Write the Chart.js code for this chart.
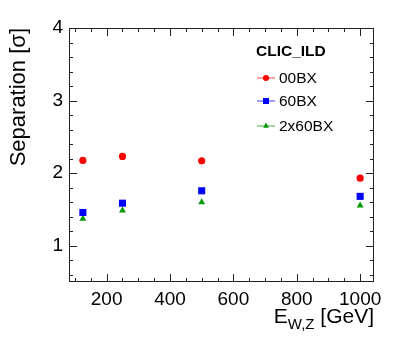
<!DOCTYPE html>
<html>
<head>
<meta charset="utf-8">
<script src="https://cdn.jsdelivr.net/npm/chart.js@4"></script>
<style>
  body { margin: 0; background: #fff; }
  canvas { display: block; }
</style>
</head>
<body>
<canvas id="sepChart" width="407" height="344"></canvas>
<script>
// energies (GeV)
const energies = [125, 250, 500, 1000];
// separation values per background scenario
const sep00BX = [2.175, 2.23, 2.17, 1.93];
const sep60BX = [1.458, 1.586, 1.757, 1.68];
const sep2x60BX = [1.37, 1.485, 1.60, 1.555];

const seriesNames = ['00BX', '60BX', '2x60BX'];
const xTicks = [200, 400, 600, 800, 1000];
const yTicks = [1, 2, 3, 4];

const FONT = "'Liberation Sans', Arial, Helvetica, sans-serif";

function toPoints(ys) {
    return energies.map((e, i) => ({ x: e, y: ys[i] }));
}

// ROOT style frame, inward ticks, legend and axis titles
const rootStyle = {
    id: 'rootStyle',
    afterDraw(chart) {
        const ctx = chart.ctx;
        const a = chart.chartArea;
        const xs = chart.scales.x;
        const ys = chart.scales.y;
        ctx.save();

        // frame
        ctx.strokeStyle = '#222';
        ctx.lineWidth = 1;
        ctx.strokeRect(a.left + 0.5, a.top + 0.5, a.right - a.left - 1, a.bottom - a.top - 1);

        // x ticks (major every 200, minor every 50)
        ctx.beginPath();
        for (let v = 100; v <= 1050; v += 50) {
            if (v < xs.min || v > xs.max) continue;
            const px = Math.round(xs.getPixelForValue(v)) + 0.5;
            const len = v % 200 === 0 ? 8 : 4;
            ctx.moveTo(px, a.bottom);
            ctx.lineTo(px, a.bottom - len);
            ctx.moveTo(px, a.top);
            ctx.lineTo(px, a.top + len);
        }
        // y ticks (major every 1, minor every 0.2)
        for (let k = 0; k <= 20; k++) {
            const v = k * 0.2;
            if (v < ys.min - 1e-6 || v > ys.max + 1e-6) continue;
            const py = Math.round(ys.getPixelForValue(v)) + 0.5;
            const len = k % 5 === 0 ? 8 : 4;
            ctx.moveTo(a.left, py);
            ctx.lineTo(a.left + len, py);
            ctx.moveTo(a.right, py);
            ctx.lineTo(a.right - len, py);
        }
        ctx.stroke();

        // legend
        const lx = a.left + 188;
        ctx.fillStyle = '#000';
        ctx.font = 'bold 15.5px ' + FONT;
        ctx.textBaseline = 'middle';
        ctx.textAlign = 'left';
        ctx.fillText('CLIC_ILD', lx - 1, a.top + 24);
        const rowY = [50, 73, 98];
        chart.data.datasets.forEach((ds, i) => {
            const y = a.top + rowY[i];
            ctx.strokeStyle = ds.borderColor;
            ctx.globalAlpha = 0.75;
            ctx.beginPath();
            ctx.moveTo(lx, y);
            ctx.lineTo(lx + 18, y);
            ctx.stroke();
            ctx.globalAlpha = 1;
            ctx.fillStyle = ds.backgroundColor;
            Chart.helpers.drawPoint(ctx, {
                pointStyle: ds.pointStyle,
                radius: ds.pointRadius * 0.85,
                rotation: 0,
                borderWidth: 0
            }, lx + 9, y);
            ctx.fillStyle = '#000';
            ctx.font = '15.5px ' + FONT;
            ctx.fillText(ds.label, lx + 22, y + 1);
        });

        // x title: E_{W,Z} [GeV], right aligned to the frame
        ctx.textBaseline = 'alphabetic';
        ctx.fillStyle = '#000';
        const bigFont = '21px ' + FONT;
        const subFont = '15px ' + FONT;
        ctx.font = bigFont;
        const wGev = ctx.measureText(' [GeV]').width;
        const wE = ctx.measureText('E').width;
        ctx.font = subFont;
        const wSub = ctx.measureText('W,Z').width;
        let x0 = a.right - wGev - wSub - wE;
        const base = a.bottom + 41;
        ctx.font = bigFont;
        ctx.fillText('E', x0, base);
        ctx.font = subFont;
        ctx.fillText('W,Z', x0 + wE, base + 6);
        ctx.font = bigFont;
        ctx.fillText(' [GeV]', x0 + wE + wSub, base);

        // y title
        ctx.save();
        ctx.translate(25, a.top);
        ctx.rotate(-Math.PI / 2);
        ctx.textAlign = 'right';
        ctx.font = '22px ' + FONT;
        ctx.fillText('Separation [\u03c3]', 0, 0);
        ctx.restore();

        ctx.restore();
    }
};

const ctx = document.getElementById('sepChart').getContext('2d');
new Chart(ctx, {
    type: 'scatter',
    data: {
        datasets: [
            {
                label: seriesNames[0],
                data: toPoints(sep00BX),
                pointStyle: 'circle',
                pointRadius: 3.6,
                backgroundColor: '#ff0000',
                borderColor: '#ff0000',
                borderWidth: 0
            },
            {
                label: seriesNames[1],
                data: toPoints(sep60BX),
                pointStyle: 'rect',
                pointRadius: 5,
                backgroundColor: '#0000ff',
                borderColor: '#0000ff',
                borderWidth: 0
            },
            {
                label: seriesNames[2],
                data: toPoints(sep2x60BX),
                pointStyle: 'triangle',
                pointRadius: 4,
                backgroundColor: '#009a00',
                borderColor: '#009a00',
                borderWidth: 0
            }
        ]
    },
    options: {
        responsive: false,
        animation: false,
        layout: { padding: { top: 28, right: 33, left: 0, bottom: 0 } },
        plugins: {
            legend: { display: false },
            tooltip: { enabled: false }
        },
        scales: {
            x: {
                type: 'linear',
                min: 81.25,
                max: 1043.75,
                afterBuildTicks: (s) => { s.ticks = xTicks.map(v => ({ value: v })); },
                afterFit: (s) => { s.height = 62; },
                grid: { display: false, drawTicks: false },
                border: { display: false },
                ticks: {
                    color: '#000',
                    font: { family: FONT, size: 19 },
                    padding: 6,
                    maxRotation: 0,
                    callback: (v) => String(v)
                }
            },
            y: {
                type: 'linear',
                min: 0.5,
                max: 4,
                afterBuildTicks: (s) => { s.ticks = yTicks.map(v => ({ value: v })); },
                afterFit: (s) => { s.width = 69; },
                grid: { display: false, drawTicks: false },
                border: { display: false },
                ticks: {
                    color: '#000',
                    font: { family: FONT, size: 19 },
                    padding: 6,
                    callback: (v) => String(v)
                }
            }
        }
    },
    plugins: [rootStyle]
});
</script>
</body>
</html>
